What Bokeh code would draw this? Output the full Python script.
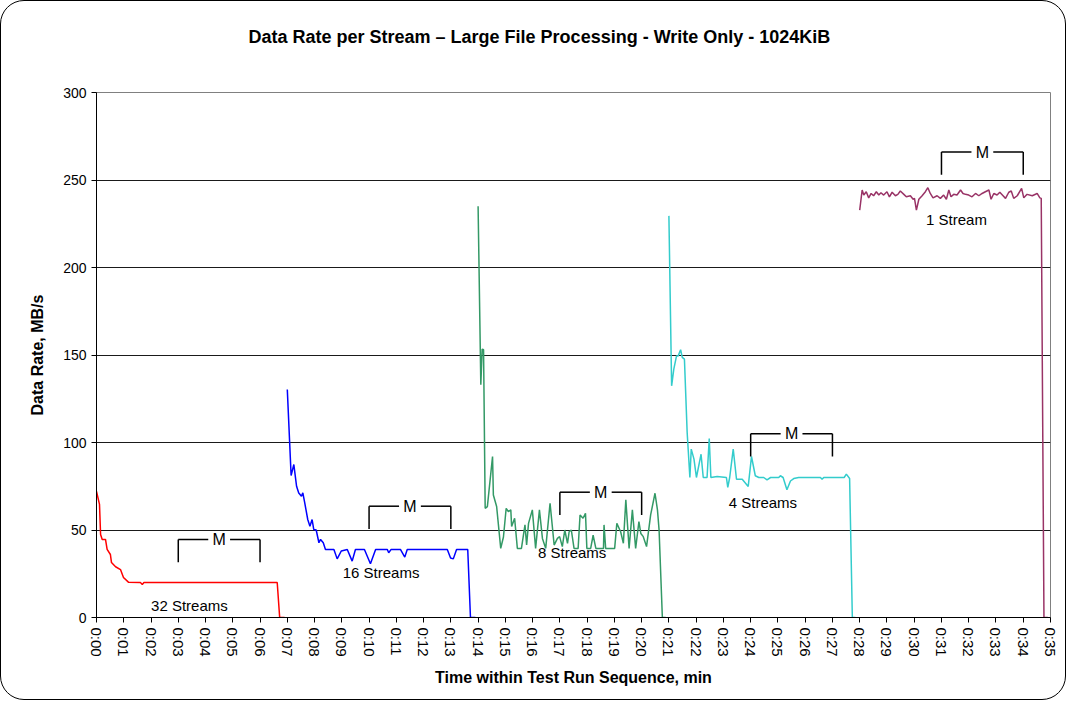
from bokeh.plotting import figure
from bokeh.models import FixedTicker, Range1d, Title
from bokeh.core.properties import value
from bokeh.embed import file_html
from bokeh.resources import INLINE

FONT = "Liberation Sans"

# ---- data (time in minutes, data rate in MB/s) ----
red_t = [0.00, 0.11, 0.15, 0.21, 0.33, 0.39, 0.51, 0.55, 0.70, 0.88, 0.99, 1.17, 1.61, 1.68, 1.74, 6.63, 6.72, 6.90]
red_v = [72, 64.6, 47.4, 44.6, 44.6, 38.9, 36, 31.4, 29, 27.4, 22.9, 20.2, 20, 18.9, 20, 20, 0, 0]

blue_t = [7.00, 7.14, 7.24, 7.34, 7.42, 7.52, 7.57, 7.64, 7.75, 7.83, 7.91, 7.97, 8.06, 8.16, 8.22, 8.32, 8.40,
          8.71, 8.83, 8.98, 9.20, 9.38, 9.50, 9.83, 10.05, 10.24, 10.67, 10.72, 10.81, 11.15, 11.31, 11.40,
          12.87, 12.99, 13.09, 13.21, 13.62, 13.72, 13.90]
blue_v = [130.3, 81.1, 87.4, 75, 71.2, 69.3, 71.2, 65.5, 56, 52.2, 56, 50.3, 50, 42.7, 44.6, 42.7, 38.9,
          38.9, 33.5, 38, 38.9, 32.2, 38.9, 38.9, 30.7, 38.9, 38.9, 37, 38.9, 38.9, 34.5, 38.9,
          38.9, 34, 33.5, 38.9, 38.9, 0, 0]

green_t = [14.00, 14.10, 14.15, 14.20, 14.26, 14.34, 14.53, 14.56, 14.68, 14.83, 14.93, 15.03, 15.11, 15.20,
           15.23, 15.34, 15.44, 15.59, 15.72, 15.78, 15.85, 15.99, 16.11, 16.25, 16.36, 16.48, 16.64, 16.79,
           16.91, 16.99, 17.09, 17.18, 17.28, 17.34, 17.42, 17.52, 17.67, 17.74, 17.85, 17.94, 17.99, 18.13,
           18.22, 18.32, 18.60, 18.62, 18.68, 19.01, 19.09, 19.23, 19.33, 19.42, 19.54, 19.66, 19.78, 19.90,
           19.97, 20.06, 20.18, 20.33, 20.49, 20.58, 20.64, 20.76, 20.88]
green_v = [235, 133, 153.4, 153, 62.4, 63.4, 92, 70, 63.4, 39.5, 46, 62.4, 60.5, 61.5,
           52, 56.7, 39.5, 39.5, 52.9, 41.4, 53.8, 61.5, 39.5, 61.5, 45.2, 39.5, 65.3, 41.4,
           45.2, 46.2, 40.5, 50, 42.4, 49, 50, 39.5, 39.5, 58.6, 56.7, 59.5, 39.5, 39.5,
           47, 39.5, 39.5, 52.9, 39.5, 39.5, 53.8, 49, 42.4, 67.2, 39.5, 61.5, 39.5, 54.8,
           48, 46.2, 40.5, 58.6, 71, 61.5, 50, 0, 0]

teal_t = [21.00, 21.10, 21.18, 21.28, 21.34, 21.43, 21.49, 21.57, 21.67, 21.77, 21.82, 21.92, 22.01, 22.18,
          22.26, 22.40, 22.48, 22.54, 22.77, 23.11, 23.16, 23.23, 23.36, 23.48, 23.69, 23.91, 24.03, 24.17,
          24.30, 24.48, 24.60, 24.73, 25.03, 25.09, 25.19, 25.33, 25.46, 25.58, 25.76, 26.56, 26.62, 26.68,
          27.43, 27.51, 27.63, 27.73, 27.84]
teal_v = [229.5, 132.4, 141.9, 149.5, 149.5, 153, 148.6, 147.6, 105.7, 80, 96.2, 90.5, 80, 93.3,
          80, 80, 102.3, 80, 80.6, 80, 74.3, 80, 96.2, 79, 79, 74.9, 92, 81,
          80, 80, 78.7, 80, 80, 81, 80, 73, 78, 79.4, 80, 80, 79, 80,
          80, 81.9, 79.4, 0, 0]

purple_t = [28.00, 28.09, 28.15, 28.24, 28.33, 28.42, 28.51, 28.61, 28.70, 28.78, 28.88, 29.00, 29.09, 29.19,
            29.31, 29.40, 29.49, 29.62, 29.71, 29.86, 29.96, 30.01, 30.08, 30.17, 30.29, 30.41, 30.50, 30.59,
            30.69, 30.84, 30.96, 31.08, 31.18, 31.27, 31.35, 31.45, 31.57, 31.70, 31.79, 31.88, 32.00, 32.12,
            32.25, 32.37, 32.49, 32.61, 32.74, 32.82, 32.92, 33.04, 33.14, 33.26, 33.35, 33.47, 33.56, 33.65,
            33.78, 33.94, 34.02, 34.14, 34.33, 34.51, 34.61, 34.66, 34.76, 34.90]
purple_v = [232.8, 244.3, 241.4, 243.3, 239.8, 242.3, 241, 243.3, 241.4, 242.7, 241.4, 243.3, 240.4, 243,
            241, 241.8, 243.7, 241.8, 240.4, 241, 239, 239.5, 232.8, 239, 241, 243.3, 245.6, 242.3,
            239.8, 241, 239.5, 241.4, 239, 244.3, 240.4, 241.8, 241.4, 244.3, 242.3, 241.8, 241.4, 240.4,
            242.3, 241, 242.3, 243.3, 244.3, 239, 242.3, 241.4, 243, 241, 239.5, 243, 243.7, 239.5,
            241, 245.2, 239.8, 241.8, 241, 242.3, 239.8, 239.5, 0, 0]

stream_labels = ["32 Streams", "16 Streams", "8 Streams", "4 Streams", "1 Stream"]
label_t = [3.41, 10.44, 17.45, 24.45, 31.55]
label_v = [6.9, 25.9, 37.3, 65.5, 227.4]

# measurement ("M") windows
m_left = [3, 10, 17, 24, 31]
m_right = [6, 13, 20, 27, 34]
m_top = [44.6, 63.6, 71.6, 105, 266]

x_ticks = list(range(0, 36))
x_tick_labels = ["0:00", "0:01", "0:02", "0:03", "0:04", "0:05", "0:06", "0:07", "0:08", "0:09",
                 "0:10", "0:11", "0:12", "0:13", "0:14", "0:15", "0:16", "0:17", "0:18", "0:19",
                 "0:20", "0:21", "0:22", "0:23", "0:24", "0:25", "0:26", "0:27", "0:28", "0:29",
                 "0:30", "0:31", "0:32", "0:33", "0:34", "0:35"]
y_ticks = [0, 50, 100, 150, 200, 250, 300]
grid_ticks = [50, 100, 150, 200, 250]

TITLE = "Data Rate per Stream \u2013 Large File Processing - Write Only - 1024KiB"

# ---- figure ----
W, H = 1066, 700
p = figure(width=W, height=H, output_backend="svg", toolbar_location=None,
           x_range=Range1d(0, 35), y_range=Range1d(0, 300),
           min_border_left=95, min_border_right=17, min_border_top=91, min_border_bottom=84)
p.styles = {"border": "1px solid black", "border-radius": "24px"}
p.border_fill_color = None
p.background_fill_color = "white"
p.outline_line_color = "#808080"
p.outline_line_width = 1

# spacer panel between the title and the plot area (pushes the title upward)
p.add_layout(Title(text=" ", text_font_size="18px", standoff=19), "above")

p.title.text = TITLE
p.title.align = "left"
p.title.offset = 152
p.title.standoff = 10
p.title.text_font = FONT
p.title.text_font_size = "18px"
p.title.text_font_style = "bold"
p.title.text_color = "black"

p.xgrid.visible = False
p.ygrid.ticker = FixedTicker(ticks=grid_ticks)
p.ygrid.grid_line_color = "#1a1a1a"
p.ygrid.grid_line_width = 1

# axes
p.xaxis.ticker = FixedTicker(ticks=x_ticks)
p.xaxis.major_label_overrides = {t: s for t, s in zip(x_ticks, x_tick_labels)}
p.xaxis.major_label_orientation = "vertical"
p.yaxis.ticker = FixedTicker(ticks=y_ticks)
for ax in (p.xaxis[0], p.yaxis[0]):
    ax.axis_line_color = "black"
    ax.axis_line_width = 1
    ax.major_tick_line_color = "black"
    ax.major_tick_in = 0
    ax.major_tick_out = 5
    ax.minor_tick_line_color = None
    ax.major_label_text_font = FONT
    ax.major_label_text_color = "black"
    ax.axis_label_text_font = FONT
    ax.axis_label_text_font_size = "16px"
    ax.axis_label_text_font_style = "bold"
    ax.axis_label_text_color = "black"
p.xaxis.major_label_text_font_size = "15px"
p.yaxis.major_label_text_font_size = "14px"
p.xaxis.major_label_standoff = 5
p.yaxis.major_label_standoff = 5
p.xaxis.axis_label = "Time within Test Run Sequence, min"
p.yaxis.axis_label = "Data Rate, MB/s"
p.xaxis.axis_label_standoff = 9
p.yaxis.axis_label_standoff = 14

# series
LW = 1.5
p.line(red_t, red_v, line_color="#FF0000", line_width=LW)
p.line(blue_t, blue_v, line_color="#0000FF", line_width=LW)
p.line(green_t, green_v, line_color="#339966", line_width=LW)
p.line(teal_t, teal_v, line_color="#33CCCC", line_width=LW)
p.line(purple_t, purple_v, line_color="#993366", line_width=LW)

# M brackets
drop = 13
gap = 0.4
mid = [(a + b) / 2 for a, b in zip(m_left, m_right)]
x0 = m_left + [m + gap for m in mid] + m_left + m_right
x1 = [m - gap for m in mid] + m_right + m_left + m_right
y0 = m_top + m_top + m_top + m_top
y1 = m_top + m_top + [v - drop for v in m_top] + [v - drop for v in m_top]
p.segment(x0=x0, y0=y0, x1=x1, y1=y1, line_color="black", line_width=1.5)
p.text(x=mid, y=m_top, text=["M"] * len(mid), text_font=value(FONT), text_font_size="16px",
       text_align="center", text_baseline="middle", text_color="black")

# stream labels
p.text(x=label_t, y=label_v, text=stream_labels, text_font=value(FONT), text_font_size="15px",
       text_align="center", text_baseline="middle", text_color="black")

open("out.html", "w").write(file_html(p, INLINE))
